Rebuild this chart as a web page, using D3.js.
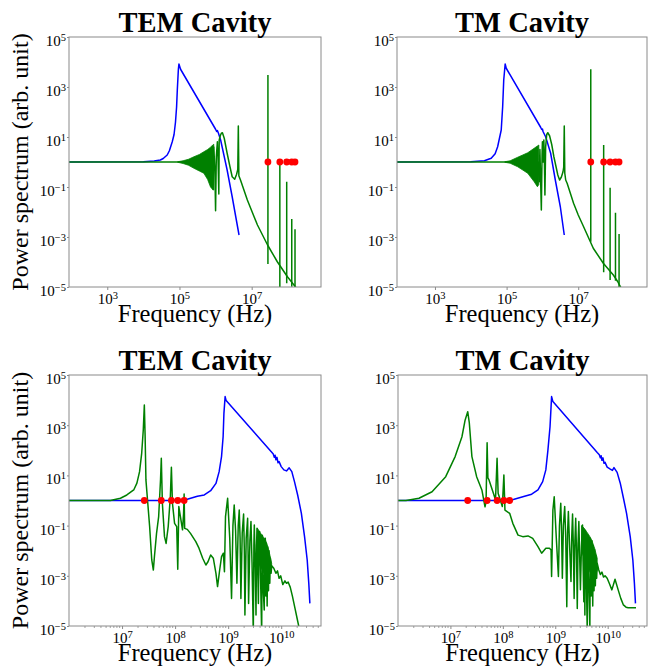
<!DOCTYPE html>
<html>
<head>
<meta charset="utf-8">
<script src="https://cdn.jsdelivr.net/npm/d3@7"></script>
<style>
  body { margin: 0; background: #fff; }
  text { font-family: "Liberation Serif", "Times New Roman", serif; fill: #000; }
</style>
</head>
<body>
<svg id="chart" width="652" height="671"></svg>
<script>
// every series below as [log10 frequency (Hz), log10 power]

// --- top row: TEM cavity ---
const temTopBlue = [[1.94,0],[4.0,0.01],[4.3,0.04],[4.47,0.08],[4.55,0.14],[4.66,0.28],[4.72,0.45],[4.8,0.81],[4.85,1.1],[4.89,1.6],[4.92,2.2],[4.94,2.88],[4.97,3.72],[4.985,3.92],[5.03,3.71],[6.0,1.31],[6.03,1.22],[6.05,1.26],[6.08,1.15],[6.14,0.88],[6.32,-0.32],[6.46,-1.39],[6.56,-2.2],[6.65,-2.92]];
const temTopGreen = [[1.94,0],[4.95,0],[5.92,0],[5.93,-1.1],[5.95,0.6],[5.98,-0.3],[6.0,-1.95],[6.02,0.2],[6.05,0.81],[6.07,0],[6.09,-1.28],[6.1,0.87],[6.13,1.05],[6.16,1.15],[6.19,1.17],[6.24,0.95],[6.32,0.35],[6.4,-0.2],[6.46,-0.59],[6.53,-0.69],[6.58,-0.5],[6.615,-0.3],[6.63,1.44],[6.645,-0.55],[6.69,-0.72],[6.88,-1.52],[7.16,-2.52],[7.44,-3.32],[7.71,-3.99],[7.99,-4.59],[8.27,-5.1]];
// dense ringing: [log10 f, upper, lower]
const temTopBand = [[4.95,0.01,-0.01],[5.1,0.05,-0.06],[5.25,0.11,-0.13],[5.4,0.21,-0.25],[5.55,0.3,-0.36],[5.675,0.41,-0.45],[5.78,0.5,-0.7],[5.86,0.59,-1.0],[5.92,0.68,-1.1],[5.95,0.71,-1.12]];
const temTopDots = [7.45, 7.78, 7.97, 8.11, 8.2];
// narrow resonances: [log10 f, top, bottom]
const temTopSpikes = [[7.45,3.48,-4.08],[7.78,0,-5.3],[7.97,-0.79,-4.85],[8.11,-2.28,-4.99],[8.2,-2.69,-5.3]];

// --- top row: TM cavity ---
const tmTopBlue = [[1.94,0],[4.0,0.01],[4.38,0.05],[4.57,0.15],[4.68,0.33],[4.75,0.61],[4.85,1.28],[4.89,2.21],[4.92,3.28],[4.96,3.92],[4.99,3.75],[5.95,1.39],[5.98,1.3],[6.0,1.32],[6.02,1.21],[6.09,1.01],[6.23,0.35],[6.36,-0.72],[6.5,-1.79],[6.61,-2.92]];
const tmTopGreen = [[1.94,0],[4.95,0],[5.88,0],[5.91,-0.79],[5.93,0.5],[5.97,-1.92],[5.99,0.3],[6.0,0.81],[6.02,0],[6.04,0.88],[6.055,0],[6.07,-1.32],[6.09,0.6],[6.12,1.1],[6.15,1.17],[6.2,1.05],[6.26,0.7],[6.32,0.21],[6.43,-0.52],[6.48,-0.72],[6.53,-0.6],[6.575,-0.39],[6.595,-0.2],[6.61,1.44],[6.625,-0.45],[6.65,-0.72],[6.69,-0.85],[6.87,-1.65],[7.0,-2.12],[7.15,-2.59],[7.42,-3.45],[7.7,-4.05],[7.98,-4.52],[8.1,-4.78],[8.22,-5.1]];
const tmTopBand = [[4.95,0.01,-0.01],[5.1,0.05,-0.05],[5.31,0.19,-0.19],[5.45,0.28,-0.32],[5.59,0.37,-0.45],[5.77,0.55,-0.79],[5.86,0.64,-0.99],[5.9,0.68,-0.9]];
const tmTopDots = [7.35, 7.71, 7.89, 8.04, 8.14];
const tmTopSpikes = [[7.35,3.71,-3.19],[7.71,0.68,-4.41],[7.89,-1.03,-4.72],[8.04,-2.03,-4.75],[8.14,-2.88,-5.3]];

// --- bottom row: TEM cavity ---
const temBottomBlue = [[6.0,0],[7.9,0],[8.23,0.05],[8.42,0.17],[8.55,0.22],[8.67,0.39],[8.77,0.68],[8.83,1.15],[8.875,1.75],[8.905,2.54],[8.92,3.47],[8.943,4.14],[8.962,3.98],[9.809,1.95],[9.85,1.85],[9.87,1.72],[9.885,1.8],[9.9,1.62],[9.92,1.72],[9.94,1.5],[9.96,1.55],[10.0,1.35],[10.05,1.22],[10.1,1.18],[10.15,1.3],[10.2,1.15],[10.25,0.75],[10.31,0.22],[10.38,-0.51],[10.44,-1.44],[10.49,-2.37],[10.52,-3.3],[10.54,-4.1]];
const temBottomGreen = [[6.0,0],[6.78,0],[6.97,0.09],[7.09,0.22],[7.22,0.42],[7.28,0.69],[7.33,1.15],[7.37,1.88],[7.4,2.81],[7.42,3.8],[7.435,2.54],[7.45,0.82],[7.485,-0.11],[7.52,-1.04],[7.56,-2.37],[7.59,-2.77],[7.61,-2.24],[7.65,-1.31],[7.69,-0.64],[7.725,0.82],[7.74,1.68],[7.76,-0.11],[7.8,-1.44],[7.83,-1.71],[7.87,-1.04],[7.91,0.15],[7.93,1.32],[7.95,-0.11],[7.99,-0.91],[8.03,-1.04],[8.05,-2.74],[8.07,-0.24],[8.1,-0.64],[8.14,-1.17],[8.16,-0.51],[8.17,0.26],[8.18,-1.11],[8.23,-1.15],[8.29,-1.31],[8.39,-1.64],[8.45,-1.9],[8.52,-2.3],[8.58,-2.57],[8.62,-2.44],[8.67,-2.17],[8.72,-2.3],[8.77,-2.9],[8.8,-3.43],[8.84,-2.77],[8.875,-2.24],[8.91,-2.1],[8.93,-2.84],[8.95,-0.64],[8.99,0.09],
  [9.03,-1.5],[9.064,-3.9],[9.09,-1.0],[9.114,-0.18],[9.14,-1.2],[9.165,-3.3],[9.19,-1.0],[9.209,-0.38],[9.225,-1.5],[9.24,-3.9],[9.265,-1.3],[9.291,-0.54],[9.305,-2.0],[9.316,-4.56],[9.34,-1.5],[9.367,-0.71],[9.375,-2.0],[9.385,-4.1],[9.41,-1.6],[9.43,-0.84],[9.45,-2.5],[9.474,-5.3],[9.485,-1.8],[9.493,-0.98],[9.51,-2.5],[9.525,-4.56],[9.535,-1.8],[9.544,-1.11],[9.555,-2.5],[9.57,-4.1],[9.58,-2.0],[9.594,-1.24],[9.61,-3.0],[9.632,-5.3],[9.64,-1.9],[9.645,-1.38],[9.66,-3.5],[9.68,-4.36],[9.69,-1.6],[9.7,-1.5],[9.71,-3.8],[9.72,-1.7],[9.735,-4.2],[9.745,-1.85],[9.76,-3.6],[9.77,-2.0],[9.785,-3.3],[9.795,-2.3],[9.81,-2.9],[9.82,-2.6],
  [9.86,-2.7],[9.9,-2.9],[9.93,-2.8],[9.96,-3.1],[9.99,-3.0],[10.03,-3.35],[10.07,-3.2],[10.1,-3.3],[10.13,-3.25],[10.17,-3.45],[10.21,-3.8],[10.26,-4.3],[10.3,-4.7],[10.34,-5.1]];
const temBottomBand = [[9.55,-1.1,-2.4],[9.6,-1.27,-2.6],[9.65,-1.42,-2.8],[9.7,-1.55,-3.0],[9.75,-1.85,-3.0],[9.79,-2.2,-2.9],[9.82,-2.5,-2.7]];
const temBottomDots = [7.42, 7.74, 7.93, 8.05, 8.17];

// --- bottom row: TM cavity ---
const tmBottomBlue = [[6.0,0],[7.91,0],[8.2,0.04],[8.415,0.17],[8.55,0.25],[8.67,0.42],[8.76,0.75],[8.82,1.22],[8.86,2.01],[8.9,2.94],[8.93,4.14],[8.955,3.94],[9.8,1.91],[9.84,1.82],[9.86,1.7],[9.875,1.78],[9.89,1.6],[9.91,1.7],[9.93,1.48],[9.95,1.52],[9.99,1.33],[10.05,1.25],[10.09,1.2],[10.12,1.31],[10.18,1.12],[10.24,0.69],[10.3,0.1],[10.36,-0.51],[10.43,-1.44],[10.48,-2.37],[10.51,-3.3],[10.53,-4.1]];
const tmBottomGreen = [[6.0,0],[6.15,0],[6.21,0.02],[6.4,0.09],[6.65,0.35],[6.91,0.95],[7.09,1.75],[7.22,2.54],[7.28,3.2],[7.33,3.54],[7.36,3.1],[7.41,1.75],[7.5,0.95],[7.6,0.42],[7.66,-0.25],[7.68,-0.05],[7.7,2.3],[7.715,0.9],[7.736,0.82],[7.82,0.29],[7.86,0.02],[7.89,1.68],[7.91,0.29],[7.99,-0.24],[8.02,1.02],[8.04,-0.38],[8.13,-0.51],[8.19,-0.91],[8.29,-1.38],[8.38,-1.44],[8.48,-1.41],[8.57,-1.51],[8.67,-1.84],[8.74,-2.1],[8.82,-1.9],[8.89,-1.9],[8.92,-1.97],[8.93,-3.03],[8.955,-0.38],[8.98,0.15],
  [9.02,-1.5],[9.06,-3.03],[9.08,-1.0],[9.105,-0.11],[9.12,-1.2],[9.135,-3.1],[9.155,-1.0],[9.18,-0.24],[9.2,-1.5],[9.22,-4.23],[9.235,-1.3],[9.25,-0.44],[9.27,-1.6],[9.3,-3.23],[9.315,-1.4],[9.33,-0.54],[9.345,-1.8],[9.36,-3.9],[9.375,-1.6],[9.39,-0.71],[9.405,-2.0],[9.42,-4.3],[9.435,-1.7],[9.45,-0.84],[9.465,-2.2],[9.48,-3.56],[9.5,-1.8],[9.52,-0.98],[9.53,-2.4],[9.545,-4.03],[9.555,-2.0],[9.565,-4.56],[9.575,-1.2],[9.59,-2.6],[9.61,-5.2],[9.62,-1.4],[9.635,-3.0],[9.66,-5.1],[9.67,-1.5],[9.685,-3.8],[9.7,-1.6],[9.715,-4.2],[9.725,-1.8],[9.74,-3.6],[9.75,-1.95],[9.765,-3.4],[9.775,-2.2],[9.79,-3.1],[9.8,-2.5],[9.83,-2.77],
  [9.86,-2.95],[9.89,-2.85],[9.92,-3.05],[9.95,-3.0],[9.99,-3.1],[10.03,-3.3],[10.08,-3.56],[10.14,-3.14],[10.2,-3.56],[10.25,-3.9],[10.3,-4.16],[10.35,-4.25],[10.39,-4.27],[10.54,-4.27]];
const tmBottomBand = [[9.5,-1.0,-2.0],[9.55,-1.1,-2.3],[9.6,-1.25,-2.6],[9.65,-1.4,-2.8],[9.7,-1.6,-3.0],[9.75,-1.9,-3.0],[9.8,-2.3,-2.8]];
const tmBottomDots = [7.33, 7.7, 7.89, 8.02, 8.13];

// --- axes ---
const yTicks = [5, 3, 1, -1, -3, -5];
const topXTicks = [3, 5, 7];
const bottomXTicks = [7, 8, 9, 10];

const panels = [
  { title: 'TEM Cavity', box: [69, 37, 321, 287], xdom: [1.94, 8.92], xticks: topXTicks, minor: false, ylabel: true,
    blue: temTopBlue, green: temTopGreen, band: temTopBand, spikes: temTopSpikes, dots: temTopDots },
  { title: 'TM Cavity', box: [397, 37, 647, 287], xdom: [1.94, 8.92], xticks: topXTicks, minor: false, ylabel: false,
    blue: tmTopBlue, green: tmTopGreen, band: tmTopBand, spikes: tmTopSpikes, dots: tmTopDots },
  { title: 'TEM Cavity', box: [69, 375, 321, 626], xdom: [6.0, 10.75], xticks: bottomXTicks, minor: true, ylabel: true,
    blue: temBottomBlue, green: temBottomGreen, band: temBottomBand, spikes: [], dots: temBottomDots },
  { title: 'TM Cavity', box: [398, 375, 647, 626], xdom: [6.0, 10.75], xticks: bottomXTicks, minor: true, ylabel: false,
    blue: tmBottomBlue, green: tmBottomGreen, band: tmBottomBand, spikes: [], dots: tmBottomDots }
];

const svg = d3.select('#chart');
const P = v => Math.pow(10, v);
const spineColor = '#8a8a8a';

// superscript tick label "10^n"
function powLabel(sel, e) {
  sel.text(null);
  sel.append('tspan').text('10');
  sel.append('tspan').attr('dy', -5).style('font-size', '10.5px')
    .text(e < 0 ? '\u2212' + Math.abs(e) : String(e));
}

panels.forEach((cfg, i) => {
  const [x0, y0, x1, y1] = cfg.box;
  const x = d3.scaleLog().domain(cfg.xdom.map(P)).range([x0, x1]);
  const y = d3.scaleLog().domain([1e-5, 1e5]).range([y1, y0]);

  const g = svg.append('g').attr('class', 'panel');

  g.append('clipPath').attr('id', 'clip' + i)
    .append('rect').attr('x', x0).attr('y', y0).attr('width', x1 - x0).attr('height', y1 - y0);

  const plot = g.append('g').attr('clip-path', `url(#clip${i})`);

  const line = d3.line().x(d => x(P(d[0]))).y(d => y(P(d[1])));
  const band = d3.area().x(d => x(P(d[0]))).y0(d => y(P(d[2]))).y1(d => y(P(d[1])));

  plot.append('path').datum(cfg.blue)
    .attr('d', line).attr('fill', 'none').attr('stroke', '#0000ff')
    .attr('stroke-width', 1.5).attr('stroke-linejoin', 'round');

  plot.append('path').datum(cfg.band)
    .attr('d', band).attr('fill', '#008000').attr('stroke', '#008000').attr('stroke-width', 0.8);

  plot.append('path').datum(cfg.green)
    .attr('d', line).attr('fill', 'none').attr('stroke', '#008000')
    .attr('stroke-width', 1.5).attr('stroke-linejoin', 'round');

  plot.selectAll('.spike').data(cfg.spikes).enter().append('line')
    .attr('class', 'spike')
    .attr('x1', d => x(P(d[0]))).attr('x2', d => x(P(d[0])))
    .attr('y1', d => y(P(d[1]))).attr('y2', d => y(P(d[2])))
    .attr('stroke', '#008000').attr('stroke-width', 1.5);

  plot.selectAll('.dot').data(cfg.dots).enter().append('circle')
    .attr('class', 'dot')
    .attr('cx', d => x(P(d))).attr('cy', y(1)).attr('r', 3.4)
    .attr('fill', '#ff0000');

  // minor ticks (bottom row only)
  if (cfg.minor) {
    const minor = [];
    for (let e = 6; e <= 10; e++) for (let k = 2; k <= 9; k++) minor.push(k * P(e));
    g.append('g').selectAll('line')
      .data(minor.filter(v => v >= P(cfg.xdom[0]) && v <= P(cfg.xdom[1])))
      .enter().append('line')
      .attr('x1', d => x(d)).attr('x2', d => x(d))
      .attr('y1', y1).attr('y2', y1 + 2)
      .attr('stroke', spineColor).attr('stroke-width', 0.8);
  }

  // x axis
  const gx = g.append('g').attr('transform', `translate(0,${y1})`)
    .call(d3.axisBottom(x).tickValues(cfg.xticks.map(P)).tickSize(3).tickFormat(''));
  gx.select('.domain').remove();
  gx.selectAll('.tick line').attr('stroke', spineColor);
  gx.selectAll('.tick text').each(function (d, j) {
    const t = d3.select(this).attr('y', 17).attr('dy', null)
      .attr('text-anchor', 'middle').style('font-size', '15px');
    powLabel(t, cfg.xticks[j]);
  });

  // y axis
  const gy = g.append('g').attr('transform', `translate(${x0},0)`)
    .call(d3.axisLeft(y).tickValues(yTicks.map(P)).tickSize(2).tickPadding(1).tickFormat(''));
  gy.select('.domain').remove();
  gy.selectAll('.tick line').attr('stroke', spineColor);
  gy.selectAll('.tick text').each(function (d, j) {
    const t = d3.select(this).attr('dy', 8.5).attr('text-anchor', 'end').style('font-size', '15px');
    powLabel(t, yTicks[j]);
  });

  // frame
  g.append('rect').attr('x', x0).attr('y', y0).attr('width', x1 - x0).attr('height', y1 - y0)
    .attr('fill', 'none').attr('stroke', spineColor).attr('stroke-width', 1);

  // titles and labels
  g.append('text').attr('x', (x0 + x1) / 2).attr('y', y0 - 5)
    .attr('text-anchor', 'middle').style('font-size', '28.5px').style('font-weight', 'bold')
    .text(cfg.title);

  g.append('text').attr('x', (x0 + x1) / 2).attr('y', y1 + 35)
    .attr('text-anchor', 'middle').style('font-size', '24.5px')
    .text('Frequency (Hz)');

  if (cfg.ylabel) {
    g.append('text')
      .attr('transform', `translate(28,${(y0 + y1) / 2}) rotate(-90)`)
      .attr('text-anchor', 'middle').style('font-size', '24px')
      .text('Power spectrum (arb. unit)');
  }
});
</script>
</body>
</html>
